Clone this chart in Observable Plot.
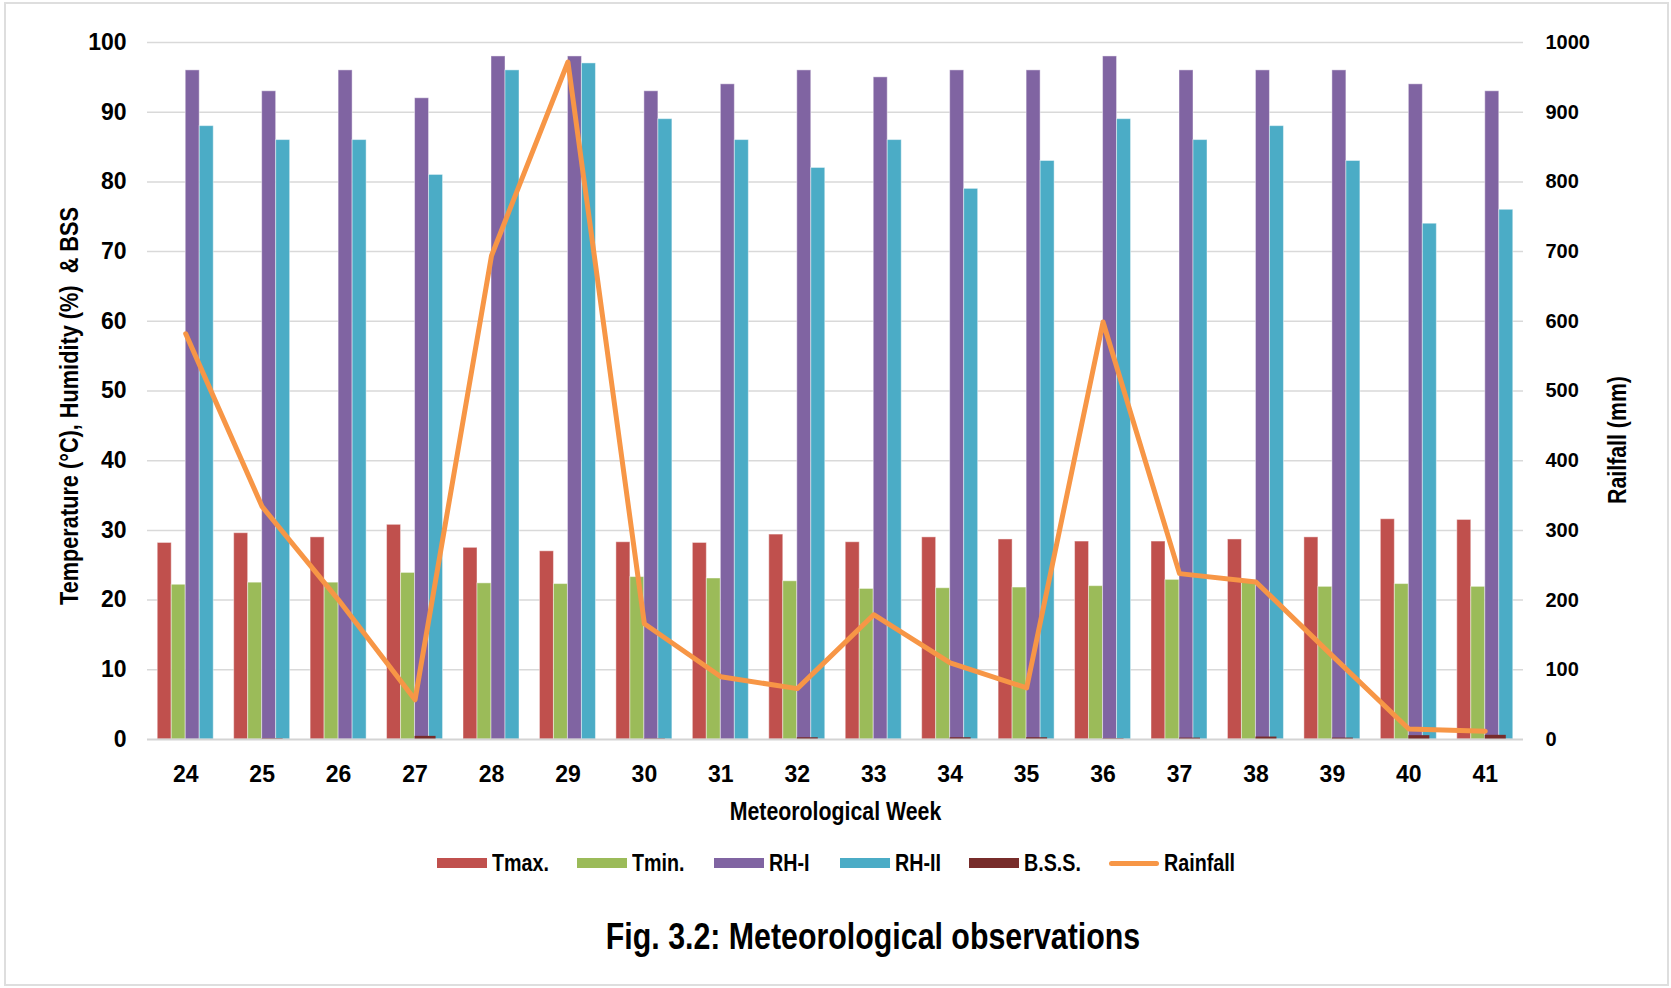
<!DOCTYPE html>
<html><head><meta charset="utf-8">
<script src="https://cdn.jsdelivr.net/npm/d3@7"></script>
<script src="https://cdn.jsdelivr.net/npm/@observablehq/plot@0.6"></script>
<style>
body{margin:0;background:#fff;}
#wrap{position:relative;width:1671px;height:988px;overflow:hidden;background:#fff;
  font-family:"Liberation Sans",Arial,sans-serif;font-weight:bold;color:#000;}
#frame{position:absolute;left:4px;top:2px;width:1661px;height:980px;border:2px solid #dedede;}
#chart{position:absolute;left:0;top:0;}
.item{position:absolute;top:851px;height:24px;display:flex;align-items:center;font-size:24px;line-height:24px;white-space:nowrap;}
.sw{width:50px;height:10px;margin-right:5px;flex:none;}
.ln{width:50px;height:5px;border-radius:3px;margin-right:5px;flex:none;}
.nt{display:inline-block;transform:scaleX(0.82);transform-origin:left center;}
#title{position:absolute;top:918px;left:873px;transform:translateX(-50%) scaleX(0.82);font-size:37px;line-height:37px;white-space:nowrap;}
</style></head>
<body>
<div id="wrap"><div id="frame"></div><div id="chart"></div><div id="legend"></div>
<div id="title">Fig. 3.2: Meteorological observations</div></div>
<script>
// ---- data ----
const weeks = [24,25,26,27,28,29,30,31,32,33,34,35,36,37,38,39,40,41];
const tmax = [28.2,29.6,29.0,30.8,27.5,27.0,28.3,28.2,29.4,28.3,29.0,28.7,28.4,28.4,28.7,29.0,31.6,31.5];
const tmin = [22.2,22.5,22.5,23.9,22.4,22.3,23.3,23.1,22.7,21.6,21.7,21.8,22.0,22.9,22.6,21.9,22.3,21.9];
const rh1 = [96,93,96,92,98,98,93,94,96,95,96,96,98,96,96,96,94,93];
const rh2 = [88,86,86,81,96,97,89,86,82,86,79,83,89,86,88,83,74,76];
const bss = [0,1,0,4.5,0,0,0.8,0,2.5,0,2.5,2.5,1,2,3.5,2,5.5,6];
const rainfall = [582,334,200,57,694,972,166,90,73,179,110,74,599,238,226,120,15,12];
const leftTicks = [0,10,20,30,40,50,60,70,80,90,100];
const rightTicks = [0,100,200,300,400,500,600,700,800,900,1000];

const series = [
  {name:"Tmax.", values:tmax, color:"#C0504D"},
  {name:"Tmin.", values:tmin, color:"#9BBB59"},
  {name:"RH-I", values:rh1, color:"#8064A2"},
  {name:"RH-II", values:rh2, color:"#4BACC6"}
];
const bssColor = "#772C2A", rainColor = "#F79646";

// ---- layout ----
const W = 1671, H = 850, mL = 147, mR = 148, mT = 42, mB = H - 739;
const bandPx = (W - mL - mR) / 18;
const bw = 14 / bandPx;      // bar width in week units
const bssW = 21 / bandPx;
const secToPrim = 10;       // secondary (mm) -> primary scale factor

const barMarks = series.map((s, k) => Plot.rectY(weeks.map((w, i) => ({w, v: s.values[i]})), {
  x1: d => d.w - 2 * bw + k * bw, x2: d => d.w - 2 * bw + (k + 1) * bw,
  y1: 0, y2: "v", fill: s.color, stroke: "#fff", strokeOpacity: 0.45, strokeWidth: 1
}));

const chart = Plot.plot({
  width: W, height: H, marginLeft: mL, marginRight: mR, marginTop: mT, marginBottom: mB,
  style: {fontFamily: '"Liberation Sans",Arial,sans-serif', fontWeight: "bold", color: "#000", background: "transparent", overflow: "visible"},
  x: {type: "linear", domain: [23.5, 41.5]},
  y: {domain: [0, 100]},
  marks: [
    Plot.ruleY(leftTicks.filter(d => d > 0), {stroke: "#d9d9d9", strokeWidth: 1.5}),
    ...barMarks,
    Plot.rectY(weeks.map((w, i) => ({w, v: bss[i] / secToPrim})), {
      x1: d => d.w, x2: d => d.w + bssW, y1: 0, y2: "v", fill: bssColor
    }),
    Plot.ruleY([0], {stroke: "#d4d4d4", strokeWidth: 2}),
    Plot.line(weeks.map((w, i) => ({w, r: rainfall[i] / secToPrim})), {
      x: "w", y: "r", stroke: rainColor, strokeWidth: 5, strokeLinejoin: "round", strokeLinecap: "round"
    }),
    Plot.axisX(weeks, {tickSize: 0, tickPadding: 26, fontSize: 23, label: null, tickFormat: d => String(d)}),
    Plot.axisY(leftTicks, {anchor: "left", tickSize: 0, tickPadding: 21, fontSize: 23, label: null}),
    Plot.axisY(leftTicks, {anchor: "right", tickSize: 0, tickPadding: 22, fontSize: 20, label: null,
      fontVariant: "normal", tickFormat: (d, i) => String(rightTicks[i])}),
    Plot.text(["Meteorological Week"], {frameAnchor: "bottom", dy: 80, fontSize: 26}),
    Plot.text(["Temperature (°C), Humidity (%)\u00A0 & BSS"], {frameAnchor: "left", textAnchor: "middle", rotate: -90, dx: -78, dy: 15, fontSize: 26.5}),
    Plot.text(["Railfall (mm)"], {frameAnchor: "right", textAnchor: "middle", rotate: -90, dx: 94, dy: 49, fontSize: 26})
  ]
});
// condense the text (Arial Narrow look), except the right-hand axis labels
chart.querySelectorAll("text").forEach(t => {
  if (t.closest("[font-variant]")) return;
  const x = +t.getAttribute("x") || 0, y = +t.getAttribute("y") || 0;
  const tr = t.getAttribute("transform") || "";
  t.setAttribute("transform", `${tr} translate(${x},${y}) scale(0.82,1) translate(${-x},${-y})`);
});
document.getElementById("chart").appendChild(chart);

// ---- legend ----
const legendItems = [
  ...series.map(s => ({name: s.name, color: s.color, line: false})),
  {name: "B.S.S.", color: bssColor, line: false},
  {name: "Rainfall", color: rainColor, line: true}
];
const legendLeft = [437, 577, 714, 840, 969, 1109];
const leg = document.getElementById("legend");
legendItems.forEach((it, i) => {
  const d = document.createElement("div");
  d.className = "item";
  d.style.left = legendLeft[i] + "px";
  d.innerHTML = `<span class="${it.line ? "ln" : "sw"}" style="background:${it.color}"></span><span class="nt">${it.name}</span>`;
  leg.appendChild(d);
});
</script>
</body></html>
